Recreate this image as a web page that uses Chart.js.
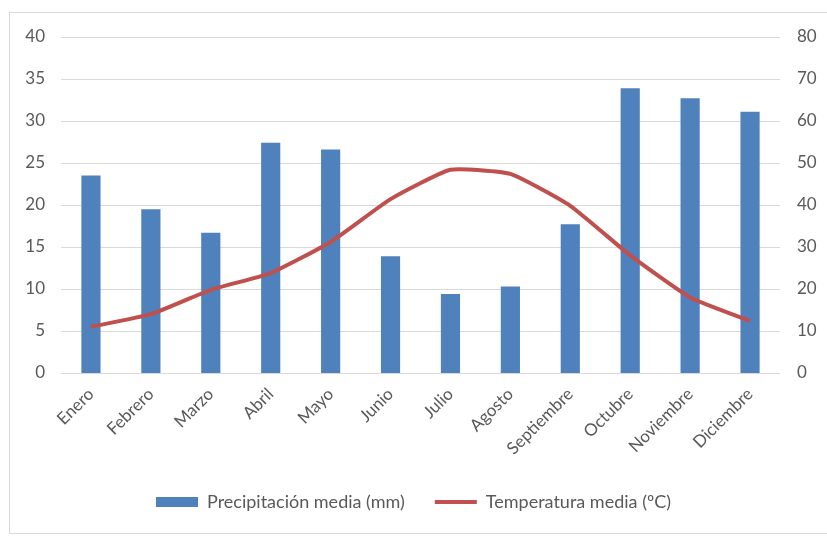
<!DOCTYPE html>
<html>
<head>
<meta charset="utf-8">
<script src="https://cdn.jsdelivr.net/npm/chart.js@4"></script>
<style>
  html, body { margin: 0; padding: 0; background: #fff; }
  #frame { position: absolute; left: 9px; top: 12px; width: 830px; height: 522px; border: 1px solid #d9d9d9; box-sizing: border-box; }
  #wrap { position: absolute; left: 0; top: 0; width: 827px; height: 539px; }
</style>
</head>
<body>
<div id="frame"></div>
<div id="wrap"><canvas id="climate-chart"></canvas></div>
<script>
// Climograma data
const months = ['Enero', 'Febrero', 'Marzo', 'Abril', 'Mayo', 'Junio', 'Julio', 'Agosto', 'Septiembre', 'Octubre', 'Noviembre', 'Diciembre'];
const precipitation = [47, 39, 33.4, 54.8, 53.2, 27.8, 18.8, 20.6, 35.4, 67.8, 65.4, 62.2]; // mm, right axis
const temperature = [5.5, 7.0, 9.9, 11.9, 15.6, 20.7, 24.2, 23.7, 19.9, 14.0, 9.0, 6.2]; // ºC, left axis

const gray = '#595959';
const tickFont = { family: 'Lato', size: 17 };

const ctx = document.getElementById('climate-chart').getContext('2d');
const climateChart = new Chart(ctx, {
    type: 'bar',
    data: {
        labels: months,
        datasets: [{
            label: 'Precipitación media (mm)',
            data: precipitation,
            yAxisID: 'y1',
            backgroundColor: '#4f81bd',
            borderWidth: 0,
            barPercentage: 0.32,
            categoryPercentage: 1,
            order: 2
        }, {
            type: 'line',
            label: 'Temperatura media (ºC)',
            data: temperature,
            yAxisID: 'y',
            borderColor: '#c0504d',
            backgroundColor: '#c0504d',
            borderWidth: 4,
            pointRadius: 0,
            tension: 0.15,
            fill: false,
            order: 1
        }]
    },
    options: {
        responsive: true,
        maintainAspectRatio: false,
        animation: false,
        layout: { padding: { top: 37, left: 0, right: 0, bottom: 18 } },
        plugins: {
            tooltip: { enabled: false },
            legend: {
                position: 'bottom',
                labels: {
                    color: gray,
                    font: { family: 'Lato', size: 18 },
                    usePointStyle: true,
                    pointStyleWidth: 42,
                    boxHeight: 10,
                    padding: 30,
                    sort: (a, b) => a.datasetIndex - b.datasetIndex,
                    generateLabels: (chart) => {
                        const items = Chart.defaults.plugins.legend.labels.generateLabels(chart);
                        items.forEach(item => {
                            item.pointStyle = item.datasetIndex === 0 ? 'rect' : 'line';
                            if (item.datasetIndex === 0) item.lineWidth = 0;
                        });
                        return items;
                    }
                }
            }
        },
        scales: {
            x: {
                grid: { display: false },
                border: { display: false },
                ticks: { color: gray, font: tickFont, maxRotation: 45, minRotation: 45, padding: 3 },
                afterFit: (scale) => { scale.height = 90; }
            },
            y: {
                position: 'left',
                min: 0,
                max: 40,
                ticks: { stepSize: 5, color: gray, font: tickFont, padding: 16 },
                grid: { color: '#d9d9d9', lineWidth: 1, drawTicks: false },
                border: { display: false },
                afterFit: (scale) => { scale.width = 61; }
            },
            y1: {
                position: 'right',
                min: 0,
                max: 80,
                ticks: { stepSize: 10, color: gray, font: tickFont, padding: 17 },
                grid: { display: false, drawTicks: false },
                border: { display: false },
                afterFit: (scale) => { scale.width = 47; }
            }
        }
    }
});
</script>
</body>
</html>
